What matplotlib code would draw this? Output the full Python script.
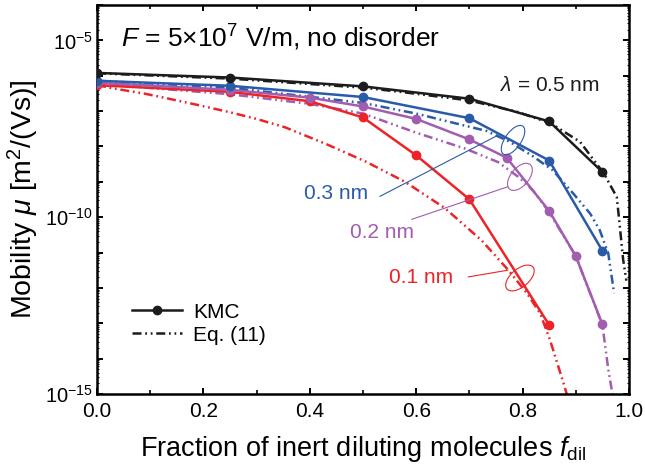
import matplotlib
matplotlib.use("Agg")
import matplotlib.pyplot as plt
from matplotlib.lines import Line2D
from matplotlib.patches import Ellipse
from matplotlib.transforms import ScaledTranslation
from matplotlib.ticker import LogLocator, FuncFormatter, MultipleLocator, NullFormatter
import numpy as np

plt.rcParams['font.family'] = ['Liberation Sans', 'DejaVu Sans']
plt.rcParams['mathtext.fontset'] = 'custom'
plt.rcParams['mathtext.rm'] = 'Liberation Sans'
plt.rcParams['mathtext.it'] = 'Liberation Sans:italic'
plt.rcParams['mathtext.bf'] = 'Liberation Sans:bold'

# ---- KMC simulation results (mobility in m^2/(Vs)) ----
f_kmc_05 = [0.0, 0.25, 0.5, 0.7, 0.85, 0.95]
mu_kmc_05 = [1.20e-6, 8.9e-7, 5.0e-7, 2.24e-7, 5.1e-8, 1.9e-9]

f_kmc_03 = [0.0, 0.25, 0.5, 0.7, 0.85, 0.95]
mu_kmc_03 = [7.2e-7, 5.2e-7, 2.5e-7, 6.3e-8, 4.0e-9, 1.12e-11]

f_kmc_02 = [0.0, 0.25, 0.4, 0.5, 0.6, 0.7, 0.77, 0.85, 0.9, 0.95]
mu_kmc_02 = [6.3e-7, 4.0e-7, 2.4e-7, 1.35e-7, 6.0e-8, 1.58e-8, 4.8e-9, 1.5e-10, 7.9e-12, 9.3e-14]

f_kmc_01 = [0.0, 0.25, 0.4, 0.5, 0.6, 0.7, 0.85]
mu_kmc_01 = [5.4e-7, 3.5e-7, 1.9e-7, 6.6e-8, 5.6e-9, 3.2e-10, 8.9e-14]

# ---- Eq. (11) curves ----
f_eq_05 = [0.0, 0.25, 0.5, 0.57, 0.7, 0.79, 0.853, 0.908, 0.953, 0.977, 0.981, 0.989, 0.995]
mu_eq_05 = [1.17e-6, 8.3e-7, 4.6e-7, 3.5e-7, 2.0e-7, 9.5e-8, 4.5e-8, 1.35e-8, 1.7e-9,
            3.7e-10, 1.0e-10, 6.3e-12, 1.6e-12]

f_eq_03 = [0.0, 0.25, 0.5, 0.6, 0.664, 0.732, 0.776, 0.82, 0.857, 0.895, 0.927, 0.945, 0.961, 0.972]
mu_eq_03 = [7.2e-7, 4.6e-7, 1.7e-7, 8.5e-8, 4.9e-8, 2.75e-8, 1.35e-8, 5.2e-9, 2.1e-9,
            4.7e-10, 1.26e-10, 4.3e-11, 9.5e-12, 7.1e-13]

f_eq_02 = [0.0, 0.1, 0.25, 0.4, 0.5, 0.6, 0.692, 0.754, 0.792, 0.82, 0.85, 0.9, 0.95, 0.961, 0.97]
mu_eq_02 = [6.2e-7, 4.5e-7, 3.0e-7, 1.6e-7, 8.5e-8, 2.45e-8, 8.7e-9, 3.6e-9, 1.38e-9,
            5.6e-10, 1.38e-10, 7.9e-12, 8.9e-14, 5.0e-15, 7.9e-16]

f_eq_01 = [0.0, 0.03, 0.09, 0.12, 0.18, 0.247, 0.30, 0.353, 0.429, 0.504, 0.579, 0.654,
           0.723, 0.773, 0.808, 0.833, 0.852, 0.877, 0.885]
mu_eq_01 = [5.4e-7, 4.4e-7, 3.1e-7, 2.5e-7, 1.6e-7, 9.5e-8, 6.0e-8, 3.5e-8, 1.2e-8,
            3.8e-9, 1.0e-9, 1.8e-10, 2.2e-11, 3.2e-12, 7.1e-13, 1.9e-13, 3.2e-14,
            2.0e-15, 7.9e-16]

series = [
    ("0.5", "#1c1c1c", f_kmc_05, mu_kmc_05, f_eq_05, mu_eq_05),
    ("0.3", "#2a5ba8", f_kmc_03, mu_kmc_03, f_eq_03, mu_eq_03),
    ("0.2", "#a25db1", f_kmc_02, mu_kmc_02, f_eq_02, mu_eq_02),
    ("0.1", "#ec2428", f_kmc_01, mu_kmc_01, f_eq_01, mu_eq_01),
]

dashdotdot = (0, (3.6, 1.5, 0.7, 1.5, 0.7, 1.5))

fig = plt.figure(figsize=(6.45, 4.72), dpi=100)
ax = fig.add_axes([0.1504, 0.1653, 0.8248, 0.8241])

# draw back-to-front: red first, black on top
for lam, col, fk, mk, fe, me in reversed(series):
    ax.plot(fe, me, color=col, lw=1.8, linestyle=dashdotdot, zorder=2)
    ax.plot(fk, mk, color=col, lw=1.8, marker='o', ms=6, zorder=3)

ax.set_yscale('log')
ax.set_xlim(0.0, 1.0)
ax.set_ylim(1e-15, 1e-4)

ax.yaxis.set_major_locator(LogLocator(base=10, numticks=30))
ax.yaxis.set_minor_locator(LogLocator(base=10, subs=np.arange(2, 10), numticks=30))
ax.yaxis.set_minor_formatter(NullFormatter())


def ylab(v, pos):
    e = int(round(np.log10(v)))
    if e in (-5, -10, -15):
        return r"10$^{\mathregular{%d}}$" % e
    return ""


ax.yaxis.set_major_formatter(FuncFormatter(ylab))
ax.xaxis.set_major_locator(MultipleLocator(0.2))
ax.xaxis.set_minor_locator(MultipleLocator(0.1))
ax.xaxis.set_major_formatter(FuncFormatter(lambda v, p: "%.1f" % v))

ax.tick_params(which='both', direction='in', top=True, right=True)
ax.tick_params(axis='x', which='major', length=4.5, width=1.4, pad=6, labelsize=15)
ax.tick_params(axis='y', which='major', length=4.5, width=1.4, pad=3, labelsize=14.5)
ax.tick_params(axis='x', which='minor', length=3, width=1.2)
ax.tick_params(axis='y', which='minor', length=1.5, width=0.8)
for s in ax.spines.values():
    s.set_linewidth(1.8)

ax.set_xlabel(r"Fraction of inert diluting molecules $f_{\mathregular{dil}}$", fontsize=19.5, labelpad=9)
ax.set_ylabel(r"Mobility $\mu$ [m$^{\mathregular{2}}$/(Vs)]", fontsize=20.5, labelpad=3)

ax.text(0.045, 10**-4.94, r"$F$ = 5×10$^{\mathregular{7}}$ V/m, no disorder",
        fontsize=19, ha='left', va='center')
ax.text(0.852, 10**-6.27, r"$\lambda$ = 0.5 nm", fontsize=15, ha='center', va='center',
        color=series[0][1])

# labels with pointer lines and ellipses
labels = [
    ("0.3 nm", series[1][1], (0.45, -9.32), (0.532, -9.41), (0.754, -7.68), (0.782, -7.82), 0.34, 0.16, 55),
    ("0.2 nm", series[2][1], (0.535, -10.42), (0.592, -10.06), (0.772, -9.14), (0.795, -8.86), 0.32, 0.18, 50),
    ("0.1 nm", series[3][1], (0.61, -11.72), (0.698, -11.69), (0.772, -11.50), (0.795, -11.72), 0.34, 0.18, 40),
]
for txt, col, tpos, p0, p1, cen, w, h, ang in labels:
    ax.text(tpos[0], 10**tpos[1], txt, color=col, fontsize=15, ha='center', va='center')
    ax.plot([p0[0], p1[0]], [10**p0[1], 10**p1[1]], color=col, lw=0.8, zorder=4)
    tr = fig.dpi_scale_trans + ScaledTranslation(cen[0], 10**cen[1], ax.transData)
    ax.add_patch(Ellipse((0, 0), w, h, angle=ang, transform=tr, fill=False,
                         edgecolor=col, lw=0.8, zorder=4))

handles = [
    Line2D([], [], color='#1c1c1c', lw=1.8, marker='o', ms=6),
    Line2D([], [], color='#1c1c1c', lw=1.8, linestyle=dashdotdot),
]
ax.legend(handles, ["KMC", "Eq. (11)"], loc='upper left', bbox_to_anchor=(0.065, 0.235),
          frameon=False, fontsize=15, handlelength=2.4, handletextpad=0.55,
          labelspacing=0.2, borderpad=0, borderaxespad=0)

fig.savefig("out.png", dpi=100)
